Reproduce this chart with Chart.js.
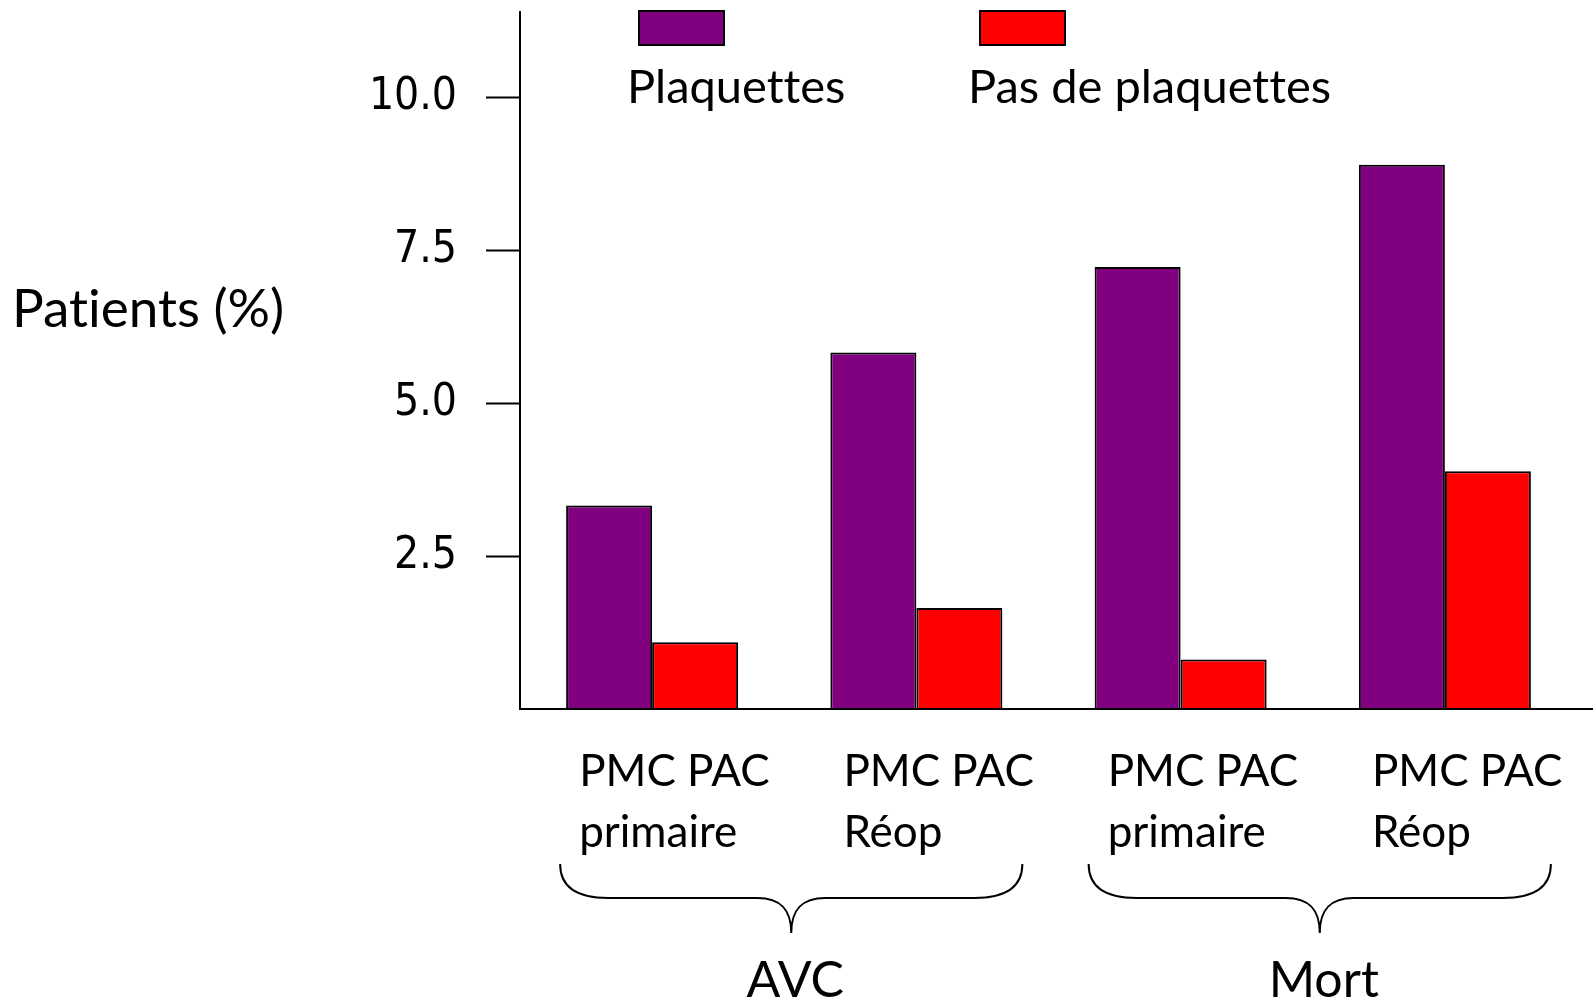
<!DOCTYPE html>
<html>
<head>
<meta charset="utf-8">
<script src="https://cdn.jsdelivr.net/npm/chart.js@4.4.1/dist/chart.umd.min.js"></script>
<style>
  html, body { margin: 0; padding: 0; background: #fff; }
  #wrap { width: 1593px; height: 1000px; }
</style>
</head>
<body>
<div id="wrap"><canvas id="chart"></canvas></div>
<script>
const categories = [["PMC PAC", "primaire"], ["PMC PAC", "Réop"], ["PMC PAC", "primaire"], ["PMC PAC", "Réop"]];
const plaquettes = [3.33, 5.83, 7.23, 8.9];
const sansPlaquettes = [1.09, 1.65, 0.81, 3.89];
const seriesNames = ["Plaquettes", "Pas de plaquettes"];
const seriesColors = ["#800080", "#FF0000"];
const yTicks = [2.5, 5.0, 7.5, 10.0];
const groups = [
  { label: "AVC", from: 0, to: 1 },
  { label: "Mort", from: 2, to: 3 },
];
const yTitle = "Patients (%)";

const textFont = "Lato";

// legend, axis title, x baseline and the group braces are drawn by hand
const decorations = {
  id: "decorations",
  afterDraw(chart) {
    const { ctx, chartArea, scales } = chart;
    const x = scales.x;
    const y = scales.y;
    const base = y.getPixelForValue(0);
    ctx.save();
    ctx.textRendering = "optimizeSpeed"; // no "tt" ligature
    ctx.strokeStyle = "#000";
    ctx.fillStyle = "#000";
    ctx.lineWidth = 2;

    ctx.beginPath();
    ctx.moveTo(chartArea.left - 1, base);
    ctx.lineTo(chart.width, base);
    ctx.stroke();

    ctx.font = "53px " + textFont;
    ctx.textAlign = "left";
    ctx.textBaseline = "middle";
    ctx.fillText(yTitle, 12, 310);

    // legend: swatch above its label
    const legendX = [627, 968];
    seriesNames.forEach((name, i) => {
      ctx.fillStyle = seriesColors[i];
      ctx.fillRect(legendX[i] + 12, 11, 85, 34);
      ctx.strokeRect(legendX[i] + 12, 11, 85, 34);
      ctx.fillStyle = "#000";
      ctx.font = "47px " + textFont;
      ctx.fillText(name, legendX[i], 88);
    });

    // curly braces under each pair of categories
    const top = 864, mid = 898, tip = 933;
    groups.forEach((g) => {
      const l = x.getPixelForValue(g.from) - 92;
      const r = x.getPixelForValue(g.to) + 106;
      const c = (l + r) / 2;
      ctx.beginPath();
      ctx.moveTo(l, top);
      ctx.bezierCurveTo(l, 886, l + 16, mid, l + 48, mid);
      ctx.lineTo(c - 34, mid);
      ctx.bezierCurveTo(c - 10, mid, c, 910, c, tip);
      ctx.moveTo(r, top);
      ctx.bezierCurveTo(r, 886, r - 16, mid, r - 48, mid);
      ctx.lineTo(c + 34, mid);
      ctx.bezierCurveTo(c + 10, mid, c, 910, c, tip);
      ctx.stroke();

      ctx.font = "50px " + textFont;
      ctx.textAlign = "center";
      ctx.textBaseline = "alphabetic";
      ctx.fillText(g.label, c + 4, 997);
      ctx.textAlign = "left";
      ctx.textBaseline = "middle";
    });
    ctx.restore();
  },
};

const barStyle = {
  borderColor: "#000",
  borderWidth: 2,
  categoryPercentage: 0.651,
  barPercentage: 1,
};

const chart = new Chart(document.getElementById("chart"), {
  type: "bar",
  data: {
    labels: categories,
    datasets: [
      { label: seriesNames[0], data: plaquettes, backgroundColor: seriesColors[0], ...barStyle },
      { label: seriesNames[1], data: sansPlaquettes, backgroundColor: seriesColors[1], ...barStyle },
    ],
  },
  options: {
    animation: false,
    responsive: true,
    maintainAspectRatio: false,
    devicePixelRatio: 1,
    events: [],
    layout: { padding: { left: 0, top: 12, right: 16, bottom: 0 } },
    plugins: {
      legend: { display: false },
      tooltip: { enabled: false },
    },
    scales: {
      x: {
        grid: { display: false, drawTicks: false },
        border: { display: false },
        ticks: {
          color: "#000",
          font: { family: textFont, size: 44, lineHeight: 1.386 },
          align: "start",
          labelOffset: -73,
          padding: 32,
          maxRotation: 0,
          autoSkip: false,
        },
        afterFit: (s) => {
          s.height = 291;
          s.paddingLeft = 0;
          s.paddingRight = 0;
        },
      },
      y: {
        min: 0,
        max: 11.4,
        afterBuildTicks: (s) => {
          s.ticks = yTicks.map((v) => ({ value: v }));
        },
        afterFit: (s) => {
          s.width = 520;
          s.paddingTop = 0;
          s.paddingBottom = 0;
        },
        grid: {
          drawOnChartArea: false,
          drawTicks: true,
          tickLength: 34,
          tickColor: "#000",
          tickWidth: 2,
        },
        border: { display: true, color: "#000", width: 2 },
        ticks: {
          color: "#000",
          padding: 29,
          font: { family: "'DejaVu Sans Condensed', 'DejaVu Sans'", size: 44 },
          callback: (v) => Number(v).toFixed(1),
        },
      },
    },
  },
  plugins: [decorations],
});
</script>
</body>
</html>
